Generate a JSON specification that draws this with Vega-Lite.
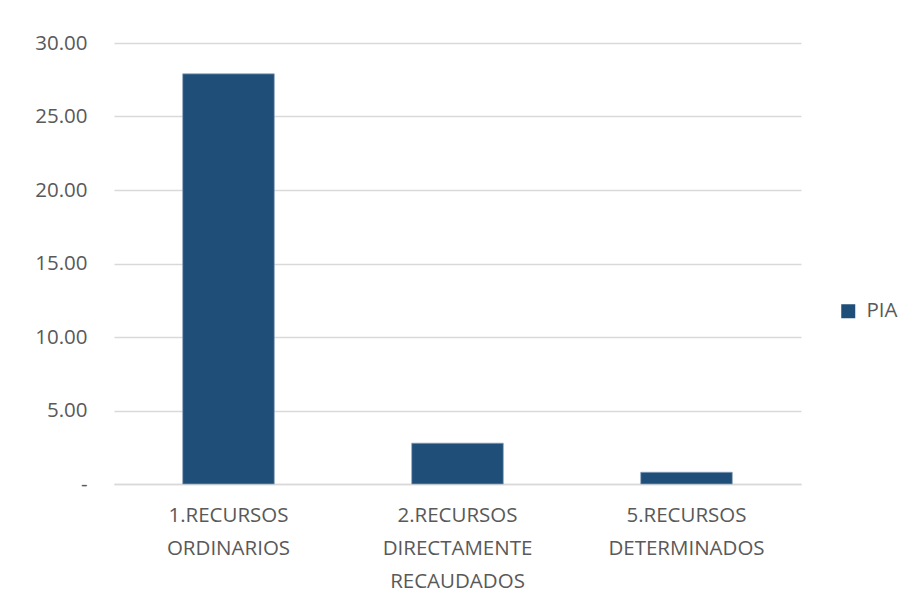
{
  "$schema": "https://vega.github.io/schema/vega-lite/v6.json",
  "autosize": {"type": "none"},
  "width": 687,
  "height": 441,
  "padding": {"left": 114, "top": 43, "right": 116, "bottom": 114},
  "background": "white",
  "data": {
    "values": [
      {"fuente": "1.RECURSOS ORDINARIOS", "serie": "PIA", "valor": 27.9},
      {"fuente": "2.RECURSOS DIRECTAMENTE RECAUDADOS", "serie": "PIA", "valor": 2.78},
      {"fuente": "5.RECURSOS DETERMINADOS", "serie": "PIA", "valor": 0.8}
    ]
  },
  "mark": {"type": "bar", "color": "#1F4E79", "stroke": "#8CA3BC", "strokeWidth": 0.7},
  "encoding": {
    "x": {
      "field": "fuente",
      "type": "nominal",
      "sort": null,
      "title": null,
      "scale": {"paddingInner": 0.6, "paddingOuter": 0.3},
      "axis": {
        "labelAngle": 0,
        "labelExpr": "split(datum.label, ' ')",
        "labelLineHeight": 33,
        "labelPadding": 21,
        "labelBaseline": "top",
        "labelFont": "Open Sans",
        "labelFontSize": 20.5,
        "labelColor": "#595959",
        "ticks": false,
        "domainColor": "#D9D9D9",
        "domainWidth": 1.5,
        "grid": false
      }
    },
    "y": {
      "field": "valor",
      "type": "quantitative",
      "title": null,
      "scale": {"domain": [0, 30], "nice": false},
      "axis": {
        "values": [0, 5, 10, 15, 20, 25, 30],
        "labelExpr": "datum.value == 0 ? '-\u00a0\u00a0' : format(datum.value, '.2f')",
        "labelFont": "Open Sans",
        "labelFontSize": 20.5,
        "labelColor": "#595959",
        "labelPadding": 27,
        "ticks": false,
        "domain": false,
        "grid": true,
        "gridColor": "#D9D9D9",
        "gridWidth": 1.5
      }
    },
    "color": {
      "field": "serie",
      "type": "nominal",
      "scale": {"range": ["#1F4E79"]},
      "legend": {
        "title": null,
        "orient": "none",
        "legendX": 724,
        "legendY": 258,
        "symbolType": "square",
        "symbolSize": 196,
        "symbolStrokeWidth": 0,
        "labelFont": "Open Sans",
        "labelFontSize": 20.5,
        "labelColor": "#595959",
        "labelOffset": 8
      }
    }
  },
  "config": {"view": {"stroke": null}}
}
